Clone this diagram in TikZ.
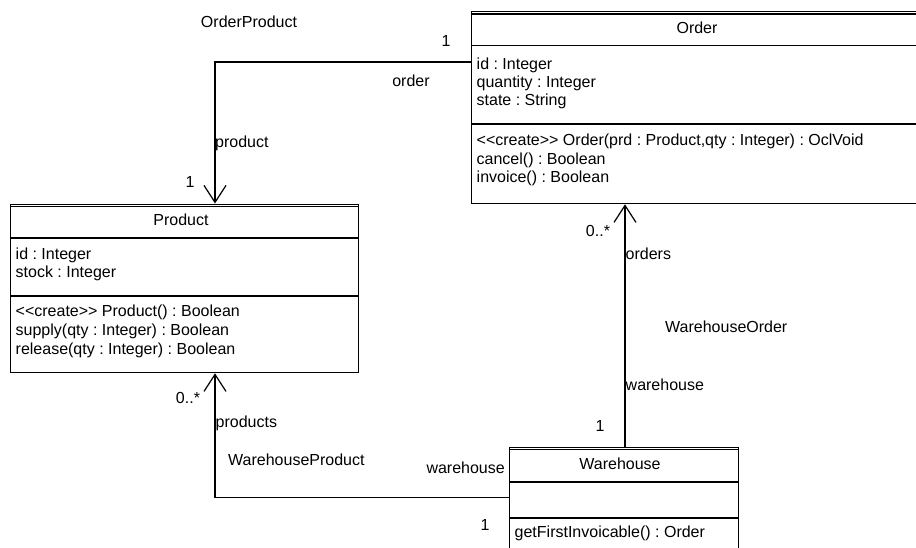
\documentclass[tikz,border=0pt]{standalone}
\usepackage{fontspec}
\setmainfont{Liberation Sans}
\usetikzlibrary{arrows.meta}
\frenchspacing
\begin{document}
\begin{tikzpicture}[x=1pt,y=-1pt,
  every node/.style={font=\fontsize{16}{18}\selectfont, inner sep=0pt, text height=11.5pt, text depth=3.5pt},
  cls/.style={draw, line width=1.3pt, anchor=north west, text height=, text depth=},
  sep/.style={line width=1.3pt},
  row/.style={anchor=west},
  lbl/.style={},
  assoc/.style={line width=1.2pt, -{Straight Barb[length=17pt,width=22pt]}}
]
\useasboundingbox (0,0) rectangle (916,547);
\clip (0,0) rectangle (916,547);
\fill[white] (0,0) rectangle (916,547);

% Order
\node[cls, minimum width=452pt, minimum height=192pt] (order) at (471,11) {};
\draw[sep] (471,14) -- (923,14);
\draw[sep] (471,45.5) -- (923,45.5);
\draw[sep] (471,124) -- (923,124);
\node (ordert) at (697,29.5) {Order};
\node[row] (o1) at (476.5,65) {id : Integer};
\node[row] (o2) at (476.5,83) {quantity : Integer};
\node[row] (o3) at (476.5,101) {state : String};
\node[row] (o4) at (476.5,141.5) {<{}<create>{}> Order(prd : Product,qty : Integer) : OclVoid};
\node[row] (o5) at (476.5,160) {cancel() : Boolean};
\node[row] (o6) at (476.5,178.5) {invoice() : Boolean};

% Product
\node[cls, minimum width=348pt, minimum height=168.5pt] (product) at (10,203.5) {};
\draw[sep] (10,206.5) -- (358,206.5);
\draw[sep] (10,238) -- (358,238);
\draw[sep] (10,296) -- (358,296);
\node (productt) at (181,221) {Product};
\node[row] (p1) at (15.5,255) {id : Integer};
\node[row] (p2) at (15.5,273.5) {stock : Integer};
\node[row] (p3) at (15.5,312) {<{}<create>{}> Product() : Boolean};
\node[row] (p4) at (15.5,331) {supply(qty : Integer) : Boolean};
\node[row] (p5) at (15.5,350) {release(qty : Integer) : Boolean};

% Warehouse
\node[cls, minimum width=229pt, minimum height=120pt] (wh) at (509,446.5) {};
\draw[sep] (509,449.5) -- (738,449.5);
\draw[sep] (509,482) -- (738,482);
\draw[sep] (509,518) -- (738,518);
\node (wht) at (620,465) {Warehouse};
\node[row] (w1) at (514.5,533) {getFirstInvoicable() : Order};

% Associations
\draw[assoc] ([yshift=-51pt]order.north west) -| ([xshift=205pt]product.north west);
\draw[assoc] ([xshift=116pt]wh.north west) -- ([xshift=154pt]order.south west);
\draw[assoc] ([yshift=-51pt]wh.north west) -| ([xshift=205pt]product.south west);

% Labels
\node[lbl] (l1) at (249,23) {OrderProduct};
\node[lbl] (l2) at (446,42) {1};
\node[lbl] (l3) at (411,82) {order};
\node[lbl, anchor=west] (l4) at (215,143) {product};
\node[lbl] (l5) at (190,183) {1};
\node[lbl] (l6) at (598,232) {0..*};
\node[lbl, anchor=west] (l7) at (625.5,255) {orders};
\node[lbl, anchor=west] (l8) at (665,328) {WarehouseOrder};
\node[lbl, anchor=west] (l9) at (625.5,386) {warehouse};
\node[lbl] (l10) at (600,427) {1};
\node[lbl] (l11) at (188,399) {0..*};
\node[lbl, anchor=west] (l12) at (215.5,423) {products};
\node[lbl, anchor=west] (l13) at (228,461) {WarehouseProduct};
\node[lbl, anchor=east] (l14) at (505,469) {warehouse};
\node[lbl] (l15) at (485,526) {1};
\end{tikzpicture}
\end{document}
